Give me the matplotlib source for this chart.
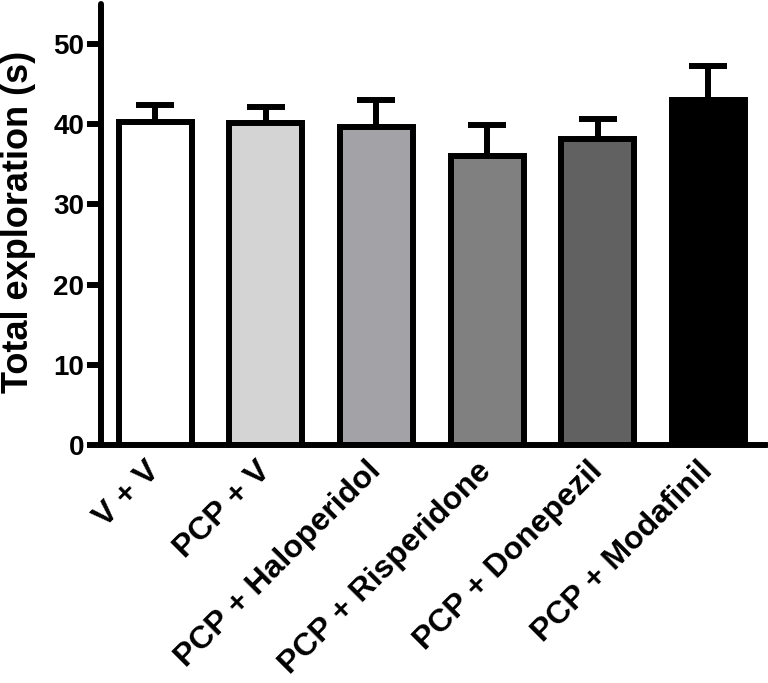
import matplotlib
matplotlib.use("Agg")
import matplotlib.pyplot as plt
import numpy as np

categories = ["V + V", "PCP + V", "PCP + Haloperidol", "PCP + Risperidone",
              "PCP + Donepezil", "PCP + Modafinil"]
means = [40.3, 40.2, 39.7, 36.1, 38.2, 43.0]
sems = [2.1, 2.0, 3.3, 3.8, 2.5, 4.3]
colors = ["#ffffff", "#d4d4d4", "#a3a3a7", "#808080", "#616161", "#000000"]
yticks = [0, 10, 20, 30, 40, 50]

plt.rcParams['font.family'] = ['Liberation Sans', 'DejaVu Sans']
plt.rcParams['font.weight'] = 'bold'

fig = plt.figure(figsize=(7.68, 6.83), dpi=100)
ax = fig.add_axes([0.1315, 0.3485, 0.867, 0.6455])

x = np.arange(len(categories))
lw = 4.3
ax.errorbar(x, means, yerr=[np.zeros(len(sems)), sems], fmt='none',
            ecolor='black', elinewidth=lw, capsize=14, capthick=lw, zorder=1)
ax.bar(x, means, width=0.66, color=colors, edgecolor='black', linewidth=lw,
       zorder=2)

ax.set_xlim(-0.49, 5.53)
ax.set_ylim(0, 55)
ax.set_yticks(yticks)
ax.set_yticklabels([str(t) for t in yticks], fontsize=20, fontweight='bold')
ax.set_xticks(x)
ax.set_xticklabels(categories, rotation=45, ha='right', va='center',
                   rotation_mode='anchor', fontsize=23, fontweight='bold')
ax.tick_params(axis='x', length=0, pad=15.5)
ax.tick_params(axis='y', length=10, width=lw, pad=2)
ax.set_ylabel("Total exploration (s)", fontsize=26, fontweight='bold')
ax.yaxis.set_label_coords(-0.097, 0.505)

for s in ['top', 'right']:
    ax.spines[s].set_visible(False)
for s in ['left', 'bottom']:
    ax.spines[s].set_linewidth(lw)
    ax.spines[s].set_capstyle('round')

fig.savefig("out.png", dpi=100)
